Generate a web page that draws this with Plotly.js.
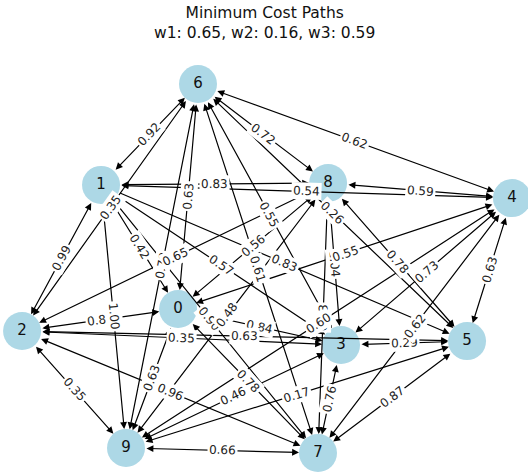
<!DOCTYPE html>
<html>
<head>
<meta charset="utf-8">
<script src="https://cdn.plot.ly/plotly-3.0.1.min.js"></script>
<style>html,body{margin:0;padding:0;background:#fff;}#chart{width:528px;height:473px;}</style>
</head>
<body>
<div id="chart"></div>
<script>
// Node layout (graph positions)
const nodeIds = [0, 1, 2, 3, 4, 5, 6, 7, 8, 9];
const nodeX = [-0.358, -0.679, -1.008, 0.321, 1.033, 0.846, -0.275, 0.225, 0.267, -0.575];
const nodeY = [-0.204, 0.313, -0.296, -0.354, 0.258, -0.338, 0.733, -0.804, 0.321, -0.783];

// Edges: source, target, weight, both directions?
const edgeSrc = [1, 6, 6, 1, 1, 8, 1, 6, 1, 6, 6, 8, 8, 1, 6, 6, 1, 6, 8, 4, 8, 4, 4, 8, 1, 8, 0, 2, 2, 2, 1, 0, 2, 2, 0, 9, 9, 3, 5, 9, 3, 4, 4];
const edgeDst = [6, 8, 4, 8, 4, 4, 2, 2, 0, 9, 0, 2, 0, 3, 7, 3, 5, 5, 3, 0, 5, 3, 5, 7, 7, 9, 3, 5, 3, 0, 9, 9, 7, 9, 7, 3, 5, 7, 7, 7, 5, 7, 9];
const edgeW   = ["0.92", "0.72", "0.62", "0.83", "0.54", "0.59", "0.99", "0.35", "0.42", "0.78", "0.63", "0.65", "0.56", "0.57", "0.61", "0.55", "0.83", "0.26", "1.04", "0.55", "0.78", "0.73", "0.63", "0.13", "0.90", "0.48", "0.84", "0.63", "0.35", "0.88", "1.00", "0.63", "0.96", "0.35", "0.78", "0.46", "0.17", "0.76", "0.87", "0.66", "0.29", "0.62", "0.60"];
const edgeBoth = [1, 1, 1, 1, 1, 1, 1, 1, 0, 1, 1, 1, 1, 0, 1, 1, 0, 1, 1, 1, 1, 1, 1, 1, 0, 1, 1, 1, 1, 1, 0, 1, 1, 1, 1, 1, 1, 1, 1, 1, 1, 1, 1];

const titleText = "Minimum Cost Paths<br>w1: 0.65, w2: 0.16, w3: 0.59";

const W = 528, H = 473;
const xr = [-1.1, 1.1];
const yr = [-0.8875, 1.0833];
const sx = W / (xr[1] - xr[0]);
const sy = H / (yr[1] - yr[0]);

const arrows = [];
const labels = [];
for (let i = 0; i < edgeSrc.length; i++) {
  const s = edgeSrc[i], t = edgeDst[i];
  const x0 = nodeX[s], y0 = nodeY[s], x1 = nodeX[t], y1 = nodeY[t];
  arrows.push({
    x: x1, y: y1, ax: x0, ay: y0, xref: 'x', yref: 'y', axref: 'x', ayref: 'y',
    text: '', showarrow: true, arrowhead: 2, startarrowhead: 2, arrowsize: 1.15, startarrowsize: 1.15,
    arrowwidth: 1.2, arrowcolor: '#000',
    arrowside: edgeBoth[i] ? 'end+start' : 'end',
    standoff: 19, startstandoff: 19
  });
  let ang = Math.atan2(-(y1 - y0) * sy, (x1 - x0) * sx) * 180 / Math.PI;
  if (ang > 90) ang -= 180;
  if (ang < -90) ang += 180;
  labels.push({
    x: (x0 + x1) / 2, y: (y0 + y1) / 2, xref: 'x', yref: 'y',
    text: edgeW[i], showarrow: false, textangle: ang,
    bgcolor: '#ffffff', borderpad: 1,
    font: {family: 'DejaVu Sans', size: 12, color: '#222'}
  });
}

const titleAnn = {
  x: 0.5, y: 1, xref: 'paper', yref: 'paper', xanchor: 'center', yanchor: 'top', yshift: -2,
  text: titleText, showarrow: false, align: 'center',
  font: {family: 'DejaVu Sans', size: 15.5, color: '#111'}
};

const nodeTrace = {
  x: nodeX, y: nodeY, mode: 'markers+text', type: 'scatter',
  text: nodeIds.map(String), textposition: 'middle center',
  textfont: {family: 'DejaVu Sans', size: 15, color: '#111'},
  marker: {size: 38, color: '#add8e6', line: {width: 0}},
  hoverinfo: 'none'
};

const layout = {
  width: W, height: H,
  margin: {l: 0, r: 0, t: 0, b: 0},
  paper_bgcolor: '#fff', plot_bgcolor: '#fff',
  showlegend: false,
  xaxis: {range: xr, visible: false, fixedrange: true},
  yaxis: {range: yr, visible: false, fixedrange: true},
  annotations: arrows.concat(labels).concat([titleAnn])
};

Plotly.newPlot('chart', [nodeTrace], layout, {displayModeBar: false, staticPlot: true});
</script>
</body>
</html>
